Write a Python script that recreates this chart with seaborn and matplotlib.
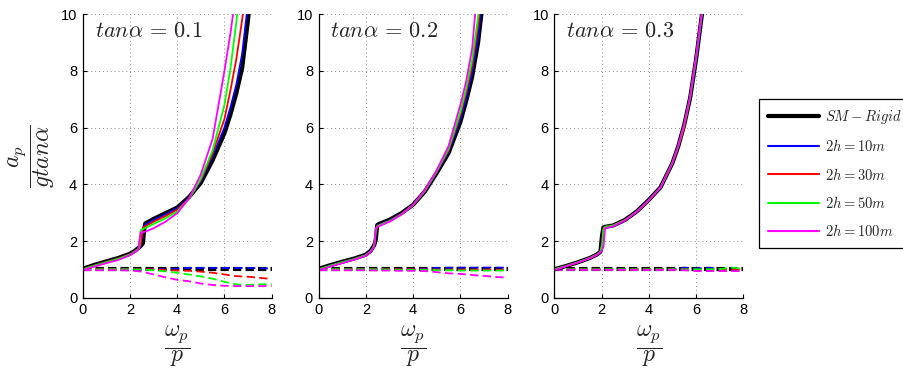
import matplotlib
matplotlib.use("Agg")
import matplotlib.pyplot as plt
import seaborn as sns
from matplotlib.lines import Line2D

# ---------------- data ----------------
series_labels = ["$SM-Rigid$", "$2h=10m$", "$2h=30m$", "$2h=50m$", "$2h=100m$"]
series_colors = ["#000000", "#0000ff", "#ff0000", "#00ff00", "#ff00ff"]
panel_titles = [r"$tan\alpha\,=\,0.1$", r"$tan\alpha\,=\,0.2$", r"$tan\alpha\,=\,0.3$"]
x_ticks = [0, 2, 4, 6, 8]
y_ticks = [0, 2, 4, 6, 8, 10]

# panel 1 (tan a = 0.1) solid curves
x1 = [0, 0.5, 1, 1.5, 2, 2.2, 2.35, 2.4, 2.45, 2.55, 2.6, 2.65, 3, 3.5, 4, 4.5, 5, 5.5, 6, 6.25, 6.5, 6.75, 7, 7.25]
p1_rigid = [1.02, 1.16, 1.28, 1.4, 1.55, 1.65, 1.75, 1.78, 1.82, 1.92, 2.4, 2.62, 2.78, 2.98, 3.18, 3.55, 4.05, 4.85, 5.8, 6.45, 7.2, 8.1, 9.8, 12.0]
p1_h10 = [1.0, 1.14, 1.26, 1.38, 1.53, 1.63, 1.73, 1.76, 1.8, 2.3, 2.55, 2.58, 2.74, 2.94, 3.15, 3.52, 4.1, 5.0, 6.0, 6.7, 7.5, 8.6, 10.4, 12.5]
p1_h30 = [1.0, 1.14, 1.26, 1.38, 1.53, 1.63, 1.72, 1.76, 1.85, 2.45, 2.5, 2.52, 2.68, 2.88, 3.1, 3.5, 4.15, 5.1, 6.3, 7.3, 8.4, 9.8, 11.5, 13.5]
p1_h50 = [1.0, 1.13, 1.25, 1.37, 1.52, 1.62, 1.72, 1.8, 2.38, 2.42, 2.44, 2.46, 2.6, 2.8, 3.04, 3.48, 4.2, 5.2, 6.8, 8.05, 9.7, 11.5, 13.5, 15.5]
p1_h100 = [0.97, 1.1, 1.22, 1.33, 1.5, 1.6, 1.7, 2.0, 2.3, 2.31, 2.32, 2.33, 2.45, 2.68, 2.98, 3.5, 4.35, 5.6, 8.0, 9.3, 10.8, 12.5, 14.5, 16.5]

# panel 2 (tan a = 0.2) solid curves
x2 = [0, 0.5, 1, 1.5, 2, 2.2, 2.35, 2.42, 2.48, 2.55, 3, 3.5, 4, 4.5, 5, 5.5, 6, 6.25, 6.5, 6.75, 7, 7.25]
p2_rigid = [1.02, 1.15, 1.27, 1.38, 1.52, 1.65, 1.85, 2.05, 2.56, 2.6, 2.75, 2.98, 3.28, 3.75, 4.4, 5.1, 6.2, 6.95, 7.8, 9.0, 10.8, 13.0]
p2_h10 = [1.0, 1.14, 1.26, 1.37, 1.51, 1.64, 1.84, 2.2, 2.55, 2.58, 2.73, 2.96, 3.27, 3.75, 4.42, 5.15, 6.3, 7.05, 7.95, 9.2, 11.1, 13.2]
p2_h30 = [1.0, 1.13, 1.25, 1.36, 1.5, 1.63, 1.82, 2.3, 2.53, 2.56, 2.71, 2.95, 3.27, 3.76, 4.45, 5.2, 6.45, 7.25, 8.2, 9.6, 11.5, 13.6]
p2_h50 = [1.0, 1.13, 1.25, 1.36, 1.5, 1.63, 1.82, 2.4, 2.52, 2.55, 2.7, 2.94, 3.27, 3.77, 4.46, 5.25, 6.55, 7.4, 8.4, 9.9, 11.8, 14.0]
p2_h100 = [0.97, 1.1, 1.22, 1.34, 1.48, 1.62, 1.8, 2.45, 2.5, 2.52, 2.68, 2.93, 3.28, 3.8, 4.5, 5.35, 6.8, 7.65, 8.8, 11.2, 13.0, 15.0]

# panel 3 (tan a = 0.3) solid curves
x3 = [0, 0.5, 1, 1.5, 1.8, 1.95, 2.02, 2.08, 2.15, 2.5, 3, 3.5, 4, 4.5, 5, 5.25, 5.5, 5.75, 6, 6.25, 6.5]
p3_rigid = [1.0, 1.12, 1.25, 1.4, 1.52, 1.62, 2.2, 2.48, 2.5, 2.55, 2.75, 3.05, 3.45, 3.9, 4.75, 5.35, 6.1, 7.05, 8.4, 10.0, 12.0]
p3_h10 = [1.0, 1.12, 1.25, 1.4, 1.52, 1.62, 2.0, 2.45, 2.5, 2.55, 2.75, 3.05, 3.45, 3.88, 4.75, 5.35, 6.05, 7.0, 8.3, 9.85, 11.8]
p3_h30 = [1.0, 1.12, 1.25, 1.4, 1.52, 1.62, 1.9, 2.45, 2.5, 2.55, 2.75, 3.04, 3.44, 3.9, 4.75, 5.33, 6.0, 7.05, 8.4, 10.0, 12.0]
p3_h50 = [1.0, 1.12, 1.25, 1.4, 1.52, 1.62, 1.85, 2.4, 2.5, 2.55, 2.74, 3.04, 3.44, 3.9, 4.76, 5.36, 6.1, 7.08, 8.45, 10.05, 12.1]
p3_h100 = [0.97, 1.11, 1.24, 1.39, 1.51, 1.6, 1.68, 1.8, 2.45, 2.52, 2.73, 3.04, 3.44, 3.9, 4.75, 5.37, 6.13, 7.1, 8.5, 10.15, 12.2]

# dashed curves (shared x grid)
xd = [0, 0.5, 1, 1.5, 2, 2.5, 3, 3.5, 4, 4.5, 5, 5.5, 6, 6.5, 7, 7.5, 8]
d1_rigid = [1.0, 1.0, 1.0, 1.0, 1.0, 1.0, 1.0, 1.0, 1.0, 1.0, 1.0, 1.0, 1.0, 1.0, 1.0, 1.0, 1.0]
d1_h10 = [1.0, 1.0, 1.0, 1.0, 1.0, 1.0, 1.0, 1.0, 1.03, 1.05, 1.05, 1.05, 1.05, 1.05, 1.05, 1.04, 1.03]
d1_h30 = [1.0, 1.0, 1.0, 1.0, 1.0, 1.0, 1.0, 0.98, 0.96, 0.95, 0.92, 0.88, 0.82, 0.76, 0.74, 0.7, 0.66]
d1_h50 = [1.0, 1.0, 1.0, 1.0, 1.0, 0.99, 0.97, 0.93, 0.88, 0.82, 0.75, 0.67, 0.56, 0.47, 0.45, 0.47, 0.48]
d1_h100 = [0.97, 0.97, 0.97, 0.97, 0.96, 0.92, 0.82, 0.72, 0.63, 0.58, 0.5, 0.45, 0.42, 0.41, 0.41, 0.41, 0.41]

d2_rigid = [1.0, 1.0, 1.0, 1.0, 1.0, 1.0, 1.0, 1.0, 1.0, 1.0, 1.0, 1.0, 1.0, 1.0, 1.0, 1.0, 1.0]
d2_h10 = [1.0, 1.0, 1.0, 1.0, 1.0, 1.0, 1.0, 1.0, 1.0, 1.02, 1.05, 1.06, 1.06, 1.06, 1.06, 1.06, 1.06]
d2_h30 = [1.0, 1.0, 1.0, 1.0, 1.0, 1.0, 1.0, 1.0, 1.0, 1.0, 0.99, 0.99, 0.99, 0.99, 0.99, 0.99, 0.99]
d2_h50 = [1.0, 1.0, 1.0, 1.0, 1.0, 1.0, 0.99, 0.98, 0.98, 0.98, 0.97, 0.97, 0.96, 0.96, 0.96, 0.96, 0.96]
d2_h100 = [0.97, 0.97, 0.97, 0.97, 0.97, 0.96, 0.96, 0.95, 0.95, 0.94, 0.9, 0.86, 0.84, 0.8, 0.77, 0.73, 0.71]

d3_rigid = [1.0, 1.0, 1.0, 1.0, 1.0, 1.0, 1.0, 1.0, 1.0, 1.0, 1.0, 1.0, 1.0, 1.0, 1.0, 1.0, 1.0]
d3_h10 = [1.0, 1.0, 1.0, 1.0, 1.0, 1.0, 1.0, 1.0, 1.0, 1.0, 1.01, 1.06, 1.03, 1.06, 1.02, 1.0, 1.0]
d3_h30 = [1.0, 1.0, 1.0, 1.0, 1.0, 1.0, 1.0, 1.0, 1.0, 1.0, 1.0, 1.0, 0.99, 0.99, 0.99, 0.99, 0.99]
d3_h50 = [1.0, 1.0, 1.0, 1.0, 1.0, 1.0, 1.0, 1.0, 1.0, 1.0, 1.0, 1.0, 1.0, 1.0, 1.01, 1.06, 1.02]
d3_h100 = [0.98, 0.98, 0.98, 0.98, 0.98, 0.98, 0.98, 0.98, 0.98, 0.98, 0.98, 0.97, 0.94, 0.94, 0.94, 0.94, 0.94]

panels = [
    (x1, [p1_rigid, p1_h10, p1_h30, p1_h50, p1_h100], [d1_rigid, d1_h10, d1_h30, d1_h50, d1_h100]),
    (x2, [p2_rigid, p2_h10, p2_h30, p2_h50, p2_h100], [d2_rigid, d2_h10, d2_h30, d2_h50, d2_h100]),
    (x3, [p3_rigid, p3_h10, p3_h30, p3_h50, p3_h100], [d3_rigid, d3_h10, d3_h30, d3_h50, d3_h100]),
]

# ---------------- style ----------------
sns.set_theme(style="white")
plt.rcParams["font.family"] = ["Liberation Sans", "DejaVu Sans"]
plt.rcParams["mathtext.fontset"] = "cm"

fig = plt.figure(figsize=(9.04, 3.71), dpi=100)
lefts = [0.0915, 0.3525, 0.6132]
axes = [fig.add_axes([l, 0.1976, 0.209, 0.7639]) for l in lefts]

for i, (ax, (xs, solids, dashes)) in enumerate(zip(axes, panels)):
    # dashed first (behind), then solid
    for j, (yd, c) in enumerate(zip(dashes, series_colors)):
        lw = 3.0 if j == 0 else 1.3
        pat = (0, (2.0, 1.0)) if j == 0 else (0, (4.6, 2.4))
        sns.lineplot(x=xd, y=yd, ax=ax, color=c, lw=lw, linestyle=pat,
                     estimator=None, sort=False, legend=False)
    for j, (ys, c) in enumerate(zip(solids, series_colors)):
        lw = 3.0 if j == 0 else 1.3
        sns.lineplot(x=xs, y=ys, ax=ax, color=c, lw=lw,
                     estimator=None, sort=False, legend=False)

    ax.set_xlim(0, 8)
    ax.set_ylim(0, 10)
    ax.set_xticks(x_ticks)
    ax.set_yticks(y_ticks)
    ax.grid(True, color="#8c8c8c", linestyle=(0, (1, 3)), linewidth=0.7)
    for s in ["top", "right"]:
        ax.spines[s].set_visible(False)
    for s in ["left", "bottom"]:
        ax.spines[s].set_color("black")
        ax.spines[s].set_linewidth(0.9)
    ax.tick_params(direction="in", length=3, width=0.8, labelsize=10.5,
                   colors="black", pad=4, top=False, right=False,
                   bottom=True, left=True)
    ax.set_facecolor("white")
    ax.text(0.5, 9.2, panel_titles[i], fontsize=16, ha="left", va="baseline")
    ax.set_xlabel(r"$\dfrac{\omega_p}{p}$", fontsize=17, labelpad=4)
    ax.set_ylabel("")

axes[0].set_ylabel(r"$\dfrac{a_p}{gtan\alpha}$", fontsize=17, labelpad=3)

handles = [Line2D([0], [0], color=c, lw=(3.0 if k == 0 else 1.5))
           for k, c in enumerate(series_colors)]
leg = fig.legend(handles, series_labels, loc="upper left",
                 bbox_to_anchor=(0.84, 0.3334, 0.165, 0.399), mode="expand",
                 fontsize=10.5, frameon=True, fancybox=False, framealpha=1,
                 edgecolor="black", handlelength=3.5, handletextpad=0.4,
                 labelspacing=0.84, borderpad=0.6, borderaxespad=0)
leg.get_frame().set_linewidth(0.9)

fig.savefig("out.png", dpi=100)
